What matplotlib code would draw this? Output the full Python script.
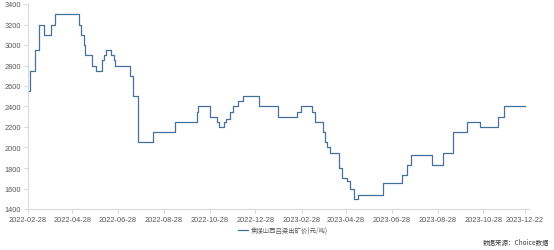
import matplotlib
matplotlib.use("Agg")
import matplotlib.pyplot as plt
import matplotlib.dates as mdates
import pandas as pd

# 价格变动点（阶梯式）
change_dates = [
    "2022-02-28", "2022-03-02", "2022-03-09", "2022-03-14", "2022-03-21",
    "2022-03-30", "2022-04-05", "2022-05-07", "2022-05-10", "2022-05-13",
    "2022-05-15", "2022-05-24", "2022-05-30", "2022-06-06", "2022-06-09",
    "2022-06-12", "2022-06-18", "2022-06-22", "2022-06-24", "2022-07-14",
    "2022-07-18", "2022-07-24", "2022-08-14", "2022-09-12", "2022-10-11",
    "2022-10-13", "2022-10-29", "2022-11-07", "2022-11-09", "2022-11-16",
    "2022-11-19", "2022-11-24", "2022-11-28", "2022-12-05", "2022-12-11",
    "2023-01-02", "2023-01-27", "2023-02-21", "2023-02-27", "2023-03-13",
    "2023-03-18", "2023-03-28", "2023-03-31", "2023-04-03", "2023-04-07",
    "2023-04-19", "2023-04-22", "2023-04-29", "2023-05-03", "2023-05-08",
    "2023-05-14", "2023-06-16", "2023-07-11", "2023-07-18", "2023-07-24",
    "2023-08-20", "2023-09-04", "2023-09-18", "2023-10-06", "2023-10-24",
    "2023-11-16", "2023-11-25", "2023-12-22",
]
prices = [
    2550, 2750, 2950, 3200, 3100,
    3200, 3300, 3200, 3100, 3000,
    2900, 2800, 2750, 2850, 2900,
    2950, 2900, 2850, 2800, 2700,
    2500, 2050, 2150, 2250, 2350,
    2400, 2300, 2250, 2200, 2250,
    2280, 2350, 2400, 2450, 2500,
    2400, 2300, 2350, 2400, 2350,
    2250, 2150, 2050, 2000, 1950,
    1800, 1700, 1670, 1600, 1500,
    1540, 1650, 1730, 1830, 1930,
    1830, 1950, 2150, 2250, 2200,
    2300, 2400, 2400,
]

tick_labels = ["2022-02-28", "2022-04-28", "2022-06-28", "2022-08-28",
               "2022-10-28", "2022-12-28", "2023-02-28", "2023-04-28",
               "2023-06-28", "2023-08-28", "2023-10-28", "2023-12-22"]
y_ticks = list(range(1400, 3401, 200))

series_name = "焦煤山西吕梁出矿价(元/吨)"
source_text = "数据来源：Choice数据"

plt.rcParams['font.family'] = ['Noto Sans CJK SC', 'DejaVu Sans']

dates = pd.to_datetime(change_dates)
ticks = pd.to_datetime(tick_labels)

fig = plt.figure(figsize=(5.54, 2.51), dpi=100)
ax = fig.add_axes([28 / 554, 1 - 210 / 251, (529 - 28) / 554, 205 / 251])

line_color = "#44709D"
ax.plot(dates, prices, drawstyle="steps-post", color=line_color, lw=0.9,
        label=series_name)

ax.set_xlim(pd.Timestamp("2022-02-28"), pd.Timestamp("2023-12-28"))
ax.set_ylim(1400, 3400)
ax.set_yticks(y_ticks)
ax.set_xticks(ticks)
ax.set_xticklabels(tick_labels)

for s in ["top", "right"]:
    ax.spines[s].set_visible(False)
for s in ["left", "bottom"]:
    ax.spines[s].set_color("#D9D9D9")
    ax.spines[s].set_linewidth(0.8)

ax.tick_params(axis="both", colors="#D9D9D9", length=3, width=0.8,
               labelcolor="#595959", labelsize=5.3, pad=2)
for lbl in ax.get_xticklabels() + ax.get_yticklabels():
    lbl.set_family(["Liberation Sans", "DejaVu Sans"])

fig.legend(loc="center", bbox_to_anchor=(283 / 554, 1 - 231 / 251),
           frameon=False, fontsize=4.6, handlelength=1.6, handletextpad=0.5,
           labelcolor="#595959")

fig.text(549 / 554, 1 - 243 / 251, source_text, ha="right", va="center",
         fontsize=4.7, color="#404040")

fig.savefig("out.png", dpi=100)
